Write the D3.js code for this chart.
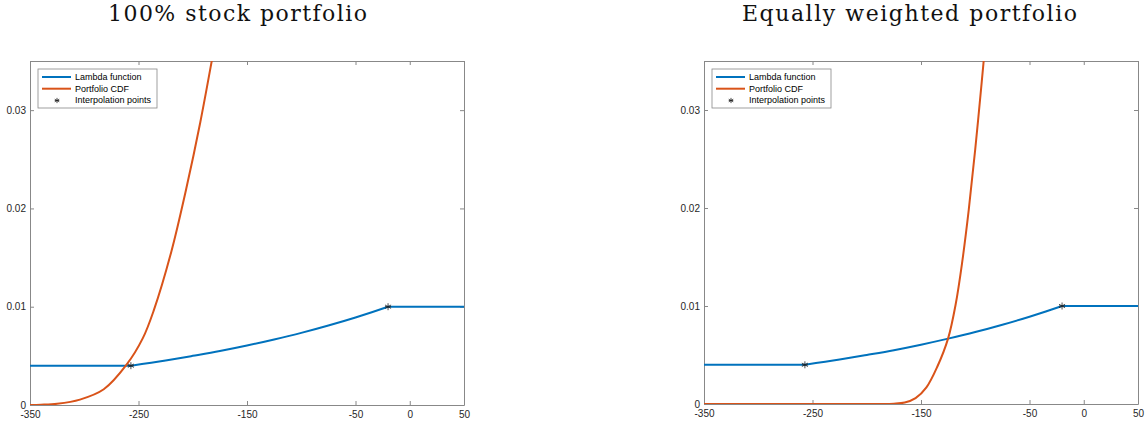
<!DOCTYPE html>
<html>
<head>
<meta charset="utf-8">
<script src="https://d3js.org/d3.v7.min.js"></script>
<style>
    body { margin: 0; background: #fff; }
    .title { font-family: "DejaVu Serif", "Liberation Serif", serif; font-size: 22px; fill: #111; }
    .tick text { font-family: "Liberation Sans", Arial, sans-serif; font-size: 10px; fill: #262626; }
    .legend text { font-family: "Liberation Sans", Arial, sans-serif; font-size: 9px; fill: #000; }
</style>
</head>
<body>
<div id="vis"></div>
<script>
    // ---- data ----
    var xTicks = [-350, -250, -150, -50, 0, 50];
    var yTicks = [0, 0.01, 0.02, 0.03];
    var titles = ["100% stock portfolio", "Equally weighted portfolio"];
    var legendLabels = ["Lambda function", "Portfolio CDF", "Interpolation points"];

    // lambda function (same in both panels): flat, curved part, flat
    var lambdaX = [-350, -257, -225, -200, -175, -150, -125, -100, -75, -50, -35, -20, 50];
    var lambdaY = [0.004, 0.004, 0.00453, 0.0050, 0.00549, 0.00605, 0.00667, 0.00734, 0.00809, 0.00891, 0.00944, 0.01, 0.01];

    // interpolation points
    var interpX = [-257, -20];
    var interpY = [0.004, 0.01];

    // portfolio CDF, 100% stock
    var cdfStockX = [-350, -340, -325, -304, -282, -261, -246, -236, -220, -206, -193, -182.5, -178];
    var cdfStockY = [0, 0.00003, 0.00013, 0.00055, 0.0016, 0.0041, 0.0068, 0.0096, 0.0155, 0.022, 0.0288, 0.035, 0.0378];

    // portfolio CDF, equally weighted
    var cdfEqX = [-350, -190, -175, -165, -155, -145, -135, -125, -118, -112, -106, -100, -94, -90];
    var cdfEqY = [0, 0, 0.00003, 0.00015, 0.0006, 0.0017, 0.0038, 0.0067, 0.0102, 0.0145, 0.0198, 0.026, 0.0329, 0.0377];

    var blue = "#0072BD", orange = "#D95319";

    var svg = d3.select("#vis").append("svg")
        .attr("width", 1148)
        .attr("height", 427);

    var zip = function(xs, ys) { return xs.map(function(x, i) { return [x, ys[i]]; }); };

    var panels = [
        {left: 30, right: 464, top: 61, bottom: 405, title: titles[0], titleX: 237.5, titleW: 259, cdf: zip(cdfStockX, cdfStockY)},
        {left: 704, right: 1138, top: 61, bottom: 404, title: titles[1], titleX: 909.5, titleW: 335, cdf: zip(cdfEqX, cdfEqY)}
    ];

    var lambda = zip(lambdaX, lambdaY);
    var knotA = lambdaX.indexOf(interpX[0]), knotB = lambdaX.indexOf(interpX[1]);
    var lambdaParts = [
        {pts: lambda.slice(0, knotA + 1), curve: d3.curveLinear},
        {pts: lambda.slice(knotA, knotB + 1), curve: d3.curveMonotoneX},
        {pts: lambda.slice(knotB), curve: d3.curveLinear}
    ];

    panels.forEach(function(p, k) {
        var x = d3.scaleLinear().domain([-350, 50]).range([p.left, p.right]);
        var y = d3.scaleLinear().domain([0, 0.035]).range([p.bottom, p.top]);
        var g = svg.append("g");

        svg.append("text").attr("class", "title")
            .attr("x", p.titleX).attr("y", 21)
            .attr("text-anchor", "middle")
            .attr("textLength", p.titleW).attr("lengthAdjust", "spacing")
            .text(p.title);

        // clip
        g.append("clipPath").attr("id", "clip" + k)
            .append("rect")
            .attr("x", p.left).attr("y", p.top)
            .attr("width", p.right - p.left).attr("height", p.bottom - p.top);

        // axes, matlab style box with inward ticks
        var xAxis = d3.axisBottom(x).tickValues(xTicks).tickSizeInner(-4).tickSizeOuter(0).tickPadding(6).tickFormat(function(d) { return String(d); });
        var xTop = d3.axisTop(x).tickValues(xTicks).tickSizeInner(-4).tickSizeOuter(0).tickFormat("");
        var yAxis = d3.axisLeft(y).tickValues(yTicks).tickSizeInner(-4).tickSizeOuter(0).tickPadding(4).tickFormat(function(d) { return d === 0 ? "0" : d3.format(".2f")(d); });
        var yRight = d3.axisRight(y).tickValues(yTicks).tickSizeInner(-4).tickSizeOuter(0).tickFormat("");

        var axes = [
            g.append("g").attr("transform", "translate(0," + p.bottom + ")").call(xAxis),
            g.append("g").attr("transform", "translate(0," + p.top + ")").call(xTop),
            g.append("g").attr("transform", "translate(" + p.left + ",0)").call(yAxis),
            g.append("g").attr("transform", "translate(" + p.right + ",0)").call(yRight)
        ];
        axes.forEach(function(a) {
            a.select(".domain").attr("stroke", "#888").attr("stroke-width", 1);
            a.selectAll(".tick line").attr("stroke", "#888");
        });
        axes[0].selectAll(".tick text").attr("y", 6).attr("dy", "0.71em");

        var line = d3.line().x(function(d) { return x(d[0]); }).y(function(d) { return y(d[1]); });

        var plot = g.append("g").attr("clip-path", "url(#clip" + k + ")");

        lambdaParts.forEach(function(part) {
            plot.append("path")
                .attr("d", line.curve(part.curve)(part.pts))
                .attr("fill", "none").attr("stroke", blue).attr("stroke-width", 2)
                .attr("stroke-linecap", "round");
        });

        plot.append("path")
            .attr("d", line.curve(d3.curveCatmullRom.alpha(0.5))(p.cdf))
            .attr("fill", "none").attr("stroke", orange).attr("stroke-width", 2);

        // asterisk markers
        var star = function(sel, cx, cy, r) {
            var s = sel.append("g").attr("transform", "translate(" + cx + "," + cy + ")")
                .attr("stroke", "#222").attr("stroke-width", 0.8);
            [0, 60, 120].forEach(function(a) {
                var t = a * Math.PI / 180;
                s.append("line")
                    .attr("x1", -r * Math.sin(t)).attr("y1", -r * Math.cos(t))
                    .attr("x2", r * Math.sin(t)).attr("y2", r * Math.cos(t));
            });
            s.append("line").attr("x1", -r * 0.87).attr("x2", r * 0.87).attr("y1", 0).attr("y2", 0);
        };
        zip(interpX, interpY).forEach(function(d) {
            star(g, x(d[0]), y(d[1]), 3.5);
        });

        // legend
        var lg = g.append("g").attr("class", "legend")
            .attr("transform", "translate(" + (p.left + 8) + "," + (p.top + 8) + ")");
        lg.append("rect").attr("width", 119).attr("height", 39)
            .attr("fill", "#fff").attr("stroke", "#888").attr("stroke-width", 0.8);
        var rows = [8, 19.7, 31.5];
        [blue, orange].forEach(function(c, i) {
            lg.append("line").attr("x1", 4).attr("x2", 33)
                .attr("y1", rows[i]).attr("y2", rows[i])
                .attr("stroke", c).attr("stroke-width", 2);
        });
        star(lg, 19, rows[2], 2.6);
        legendLabels.forEach(function(t, i) {
            lg.append("text").attr("x", 37).attr("y", rows[i]).attr("dy", "0.33em").text(t);
        });
    });
</script>
</body>
</html>
